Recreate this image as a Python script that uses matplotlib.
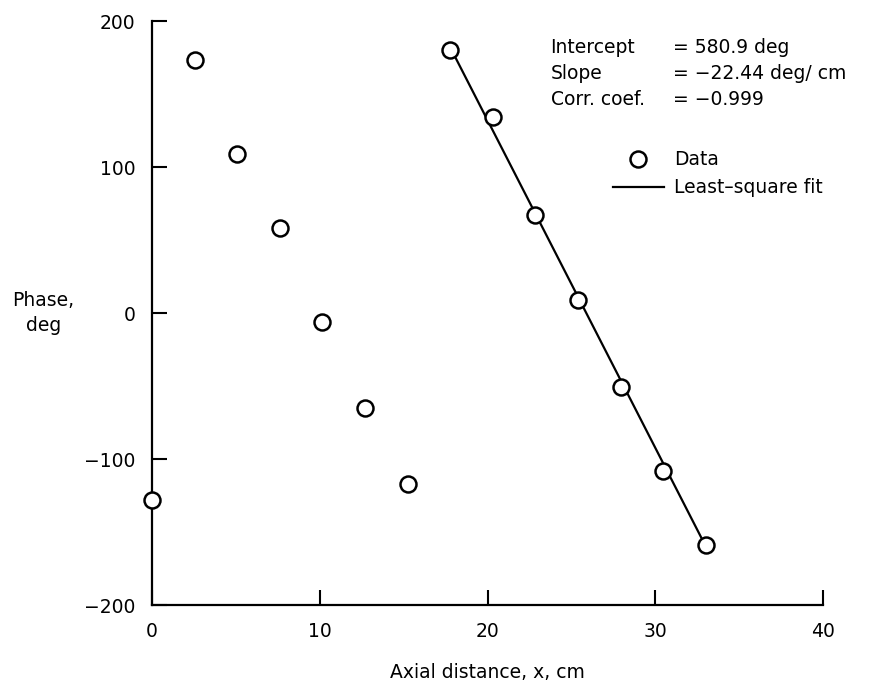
import numpy as np
import matplotlib.pyplot as plt
from matplotlib.lines import Line2D
from matplotlib.legend_handler import HandlerLine2D

plt.rcParams['font.family'] = ['DejaVu Sans']

# probe positions (1 in spacing) and measured phase
x_cm = [0.0, 2.54, 5.08, 7.62, 10.16, 12.70, 15.24,
        17.78, 20.32, 22.86, 25.40, 27.94, 30.48, 33.02]
phase_deg = [-128, 173, 109, 58, -6, -65, -117,
             180, 134, 67, 9, -51, -108, -159]

intercept = 580.9
slope = -22.44
corr = -0.999

# straight-line fit only covers the downstream points
fit_x = np.array([x_cm[7], x_cm[-1]])
fit_y = intercept + slope * fit_x


class RightMarker(HandlerLine2D):
    # put the single legend marker near the right end of the handle
    def get_xdata(self, legend, xdescent, ydescent, width, height, fontsize):
        xdata, xm = super().get_xdata(legend, xdescent, ydescent,
                                      width, height, fontsize)
        return xdata, [-xdescent + width * 0.78]


fig = plt.figure(figsize=(8.75, 6.89), dpi=100)
ax = fig.add_axes([0.1737, 0.1219, 0.7669, 0.8476])

ax.plot(fit_x, fit_y, color='black', lw=1.6, zorder=2)
ax.plot(x_cm, phase_deg, linestyle='none', marker='o', ms=11.5,
        mfc='white', mec='black', mew=1.8, zorder=3, clip_on=False)

ax.set_xlim(0, 40)
ax.set_ylim(-200, 200)
ax.set_xticks([0, 10, 20, 30, 40])
ax.set_yticks([-200, -100, 0, 100, 200])

for side in ['top', 'right']:
    ax.spines[side].set_visible(False)
for side in ['left', 'bottom']:
    ax.spines[side].set_linewidth(1.6)

ax.tick_params(direction='in', length=11, width=1.5, labelsize=13.5, pad=12)

ax.set_xlabel('Axial distance, x, cm', fontsize=13.5, labelpad=16)
ax.set_ylabel('Phase,\ndeg', fontsize=13.5, rotation=0, ha='center',
              va='center', linespacing=1.45)
ax.yaxis.set_label_coords(-0.162, 0.5)

stats = [('Intercept', f'= {intercept} deg'),
         ('Slope', f'= \u2212{abs(slope)} deg/ cm'),
         ('Corr. coef.', f'= \u2212{abs(corr)}')]
for i, (name, val) in enumerate(stats):
    yy = 0.955 - i * 0.045
    ax.text(0.594, yy, name, transform=ax.transAxes, fontsize=13.5, va='center')
    ax.text(0.776, yy, val, transform=ax.transAxes, fontsize=13.5, va='center')

pt = Line2D([], [], linestyle='none', marker='o', ms=11.5,
            mfc='white', mec='black', mew=1.8)
ln = Line2D([], [], color='black', lw=1.6)
ax.legend([pt, ln], ['Data', 'Least\u2013square fit'], loc='upper left',
          bbox_to_anchor=(0.687, 0.779), frameon=False, fontsize=13.5,
          handlelength=2.72, handletextpad=0.55, labelspacing=0.5,
          borderpad=0, borderaxespad=0,
          handler_map={pt: RightMarker(numpoints=1)})

fig.savefig('out.png', dpi=100)
